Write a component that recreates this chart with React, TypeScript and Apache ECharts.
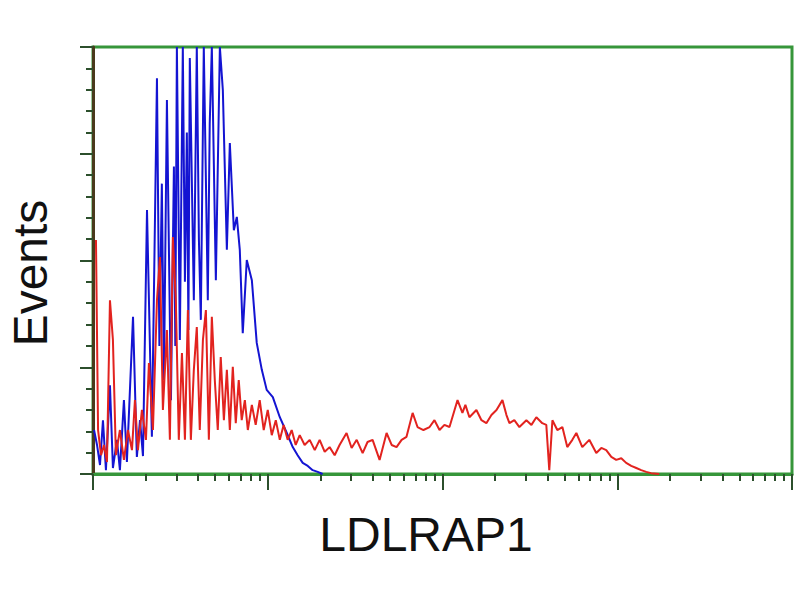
import React, { useEffect, useRef } from "react";
import * as echarts from "echarts";

// x: log10 fluorescence (4 decades), y: % of max events
const blueData: [number, number][] = [
  [0.006, 10.3], [0.023, 6.8], [0.04, 2.1], [0.057, 12.6], [0.074, 0.9], [0.097, 20.8],
  [0.114, 1.4], [0.137, 8.0], [0.154, 0.9], [0.177, 17.3], [0.194, 2.8], [0.229, 36.8],
  [0.251, 4.0], [0.269, 12.6], [0.286, 4.2], [0.309, 61.8], [0.337, 8.7], [0.366, 92.7],
  [0.38, 30.0], [0.394, 68.0], [0.406, 22.0], [0.423, 87.6], [0.446, 17.3], [0.463, 72.0],
  [0.471, 30.0], [0.48, 100], [0.497, 31.4], [0.514, 100], [0.526, 45.0], [0.537, 80.0],
  [0.546, 33.7], [0.554, 97.4], [0.577, 40.7], [0.594, 100], [0.606, 55.0], [0.617, 36.1],
  [0.634, 100], [0.657, 40.7], [0.668, 82.0], [0.68, 100], [0.703, 45.4], [0.726, 100],
  [0.743, 89.9], [0.766, 52.5], [0.783, 77.5], [0.806, 57.1], [0.823, 60.2], [0.84, 52.5],
  [0.857, 33.0], [0.88, 50.1], [0.909, 45.4], [0.937, 30.7], [0.966, 24.4], [0.994, 19.7],
  [1.029, 18.0], [1.069, 13.3], [1.109, 9.6], [1.143, 6.3], [1.171, 4.4], [1.2, 2.6],
  [1.229, 1.9], [1.257, 0.9], [1.286, 0.5], [1.314, 0],
];

const redData: [number, number][] = [
  [0.017, 54.8], [0.029, 10.3], [0.046, 4.4], [0.063, 6.8], [0.08, 2.8], [0.097, 40.7],
  [0.114, 31.4], [0.131, 4.4], [0.154, 10.3], [0.177, 3.3], [0.2, 10.3], [0.223, 5.6],
  [0.24, 17.3], [0.257, 5.6], [0.28, 15.0], [0.303, 8.0], [0.32, 26.0], [0.343, 10.3],
  [0.366, 40.7], [0.383, 50.8], [0.4, 15.0], [0.423, 33.7], [0.44, 8.0], [0.457, 55.5],
  [0.474, 40.7], [0.491, 8.0], [0.509, 28.3], [0.526, 8.0], [0.543, 38.4], [0.56, 8.0],
  [0.577, 24.4], [0.594, 34.4], [0.611, 10.3], [0.629, 31.4], [0.646, 38.4], [0.663, 8.0],
  [0.68, 36.8], [0.697, 22.0], [0.714, 10.3], [0.731, 27.4], [0.749, 12.6], [0.766, 24.4],
  [0.783, 10.3], [0.8, 25.1], [0.817, 11.9], [0.834, 22.0], [0.851, 12.6], [0.869, 17.3],
  [0.886, 10.3], [0.909, 16.2], [0.931, 11.5], [0.954, 17.3], [0.977, 10.3], [1.0, 15.0],
  [1.023, 9.1], [1.046, 12.6], [1.069, 8.0], [1.091, 11.5], [1.114, 8.0], [1.137, 10.3],
  [1.16, 6.8], [1.183, 9.1], [1.211, 6.8], [1.24, 8.0], [1.269, 5.6], [1.297, 8.0],
  [1.326, 5.2], [1.354, 6.3], [1.383, 4.4], [1.411, 6.8], [1.451, 9.6], [1.48, 6.1],
  [1.509, 8.0], [1.543, 4.9], [1.571, 7.5], [1.6, 8.0], [1.64, 3.3], [1.68, 9.6],
  [1.709, 6.8], [1.737, 6.3], [1.766, 8.0], [1.794, 8.7], [1.829, 14.3], [1.857, 11.0],
  [1.891, 10.3], [1.926, 11.0], [1.954, 12.6], [1.983, 10.3], [2.011, 11.5], [2.04, 11.0],
  [2.069, 15.0], [2.086, 17.3], [2.114, 14.3], [2.131, 16.2], [2.154, 13.3], [2.194, 15.0],
  [2.223, 12.6], [2.251, 11.9], [2.28, 13.8], [2.309, 15.0], [2.343, 17.3], [2.366, 13.8],
  [2.383, 11.9], [2.411, 12.6], [2.44, 11.0], [2.48, 12.6], [2.509, 11.5], [2.537, 13.3],
  [2.571, 11.9], [2.594, 11.5], [2.611, 0.9], [2.629, 12.6], [2.657, 10.3], [2.686, 11.0],
  [2.714, 6.3], [2.743, 8.0], [2.766, 9.6], [2.8, 6.3], [2.84, 8.0], [2.88, 4.9],
  [2.909, 6.1], [2.937, 5.6], [2.966, 4.0], [2.994, 3.3], [3.023, 3.7], [3.051, 2.6],
  [3.08, 1.9], [3.109, 1.4], [3.137, 0.9], [3.166, 0.5], [3.194, 0.2], [3.24, 0],
];

const decades = [0, 1, 2, 3];
const minorMultipliers = [2, 3, 4, 5, 6, 7, 8, 9];
const xTitle = "LDLRAP1";
const yTitle = "Events";

export default function App() {
  const ref = useRef<HTMLDivElement>(null);
  useEffect(() => {
    if (!ref.current) return;
    const chart = echarts.init(ref.current, null, { renderer: "svg" });
    const minorTicks: number[] = [];
    decades.forEach((d) => minorMultipliers.forEach((m) => minorTicks.push(d + Math.log10(m))));
    const green = "#36963a";
    const tickColor = "#2c4f2c";
    const gridRect = { left: 93, right: 8, top: 47, bottom: 126 };
    chart.setOption({
      animation: false,
      backgroundColor: "#ffffff",
      grid: [
        { ...gridRect, show: true, borderColor: green, borderWidth: 3, backgroundColor: "#fff" },
        { ...gridRect, show: false },
      ],
      xAxis: [
        {
          type: "value", gridIndex: 0, min: 0, max: 4, interval: 1,
          axisLine: { show: true, lineStyle: { color: green, width: 3 } },
          axisTick: { show: true, length: 16, lineStyle: { color: tickColor, width: 2 } },
          axisLabel: { show: false }, splitLine: { show: false },
        },
        {
          type: "value", gridIndex: 1, min: 0, max: 4,
          axisLine: { show: false },
          axisTick: { show: true, length: 7, customValues: minorTicks, lineStyle: { color: tickColor, width: 2 } },
          axisLabel: { show: false }, splitLine: { show: false },
        },
      ],
      yAxis: [
        {
          type: "value", gridIndex: 0, min: 0, max: 100, interval: 25,
          axisLine: { show: true, lineStyle: { color: "#4a3a1c", width: 3 } },
          axisTick: { show: true, length: 13, lineStyle: { color: tickColor, width: 2 } },
          minorTick: { show: true, splitNumber: 5, length: 7, lineStyle: { color: tickColor, width: 2 } },
          axisLabel: { show: false }, splitLine: { show: false }, minorSplitLine: { show: false },
        },
        { type: "value", gridIndex: 1, min: 0, max: 100, show: false },
      ],
      series: [
        {
          type: "line", data: blueData, xAxisIndex: 0, yAxisIndex: 0, showSymbol: false,
          lineStyle: { color: "#1414d2", width: 2 }, z: 3,
        },
        {
          type: "line", data: redData, xAxisIndex: 0, yAxisIndex: 0, showSymbol: false,
          lineStyle: { color: "#e2231f", width: 2 }, z: 4,
        },
      ],
      graphic: [
        {
          type: "text", x: 426, y: 534,
          style: { text: xTitle, fontFamily: "Liberation Sans", fontSize: 48, fill: "#111", textAlign: "center", textVerticalAlign: "middle" },
        },
        {
          type: "text", x: 30, y: 273, rotation: Math.PI / 2,
          style: { text: yTitle, fontFamily: "Liberation Sans", fontSize: 48, fill: "#111", textAlign: "center", textVerticalAlign: "middle" },
        },
      ],
    });
    return () => chart.dispose();
  }, []);
  return <div ref={ref} style={{ position: "fixed", left: 0, top: 0, width: 800, height: 600 }} />;
}
